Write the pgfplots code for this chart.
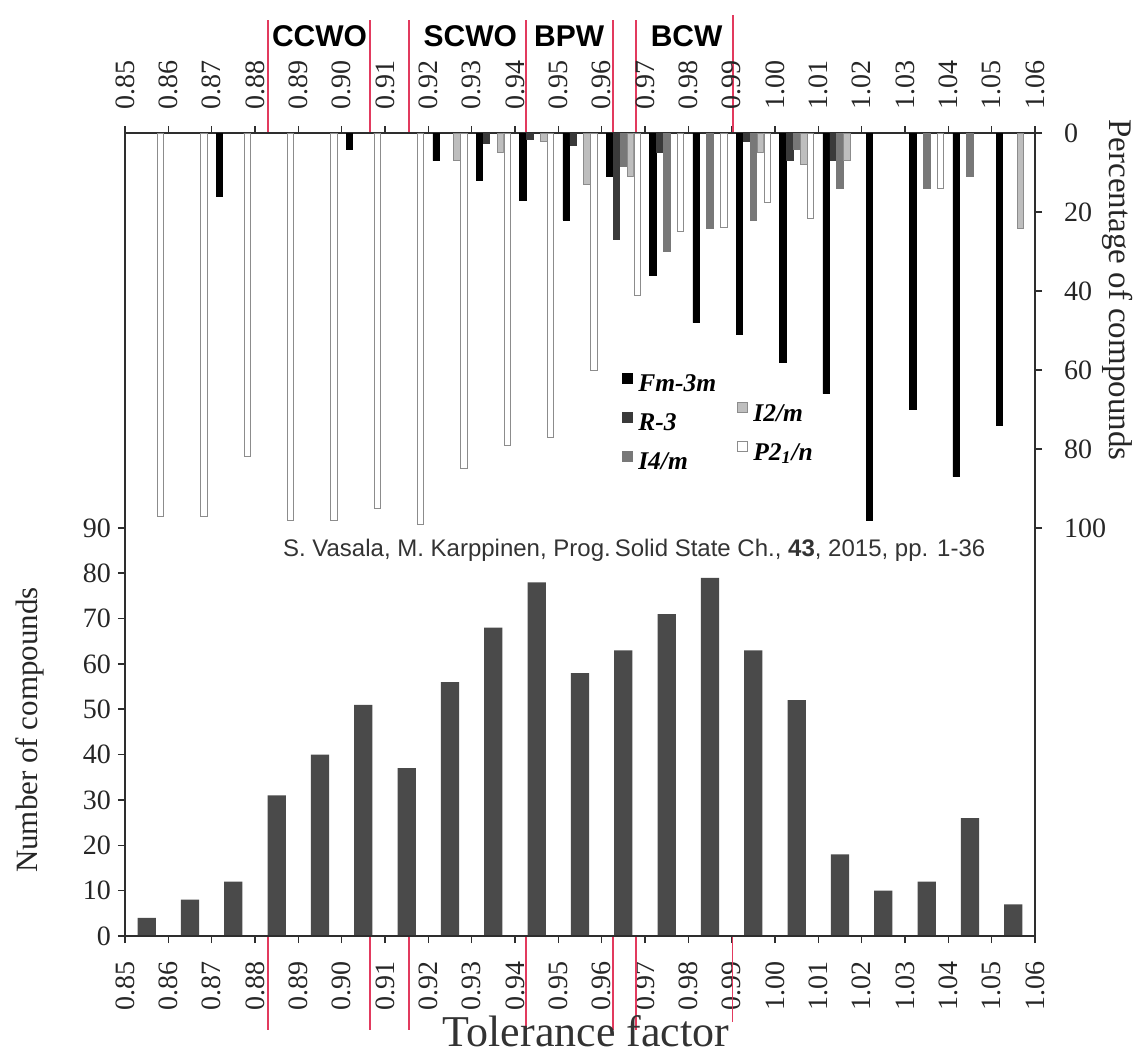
\documentclass[border=0pt]{standalone}
\usepackage{pgfplots}
\pgfplotsset{compat=1.18}
\usepackage{fontspec}
\setmainfont{Liberation Serif}
\newfontfamily\arialfont{Liberation Sans}

\definecolor{cFm}{HTML}{000000}
\definecolor{cR}{HTML}{3A3A3A}
\definecolor{cIfour}{HTML}{787878}
\definecolor{cItwo}{HTML}{BEBEBE}
\definecolor{cP}{HTML}{FFFFFF}
\definecolor{cEdge}{HTML}{8C8C8C}
\definecolor{histbar}{HTML}{4A4A4A}
\definecolor{regionred}{HTML}{E23A5E}
\definecolor{axisgray}{HTML}{2E2E2E}

\pgfplotsset{
  panel/.style={
    at={(0,0)}, anchor=south west,
    scale only axis, width=455pt, height=401.5pt,
    xmin=0.85, xmax=1.06,
    xtick={0.85,0.86,0.87,0.88,0.89,0.90,0.91,0.92,0.93,0.94,0.95,0.96,0.97,0.98,0.99,1.00,1.01,1.02,1.03,1.04,1.05,1.06},
    axis line style={line width=0.8pt, axisgray},
    major tick style={line width=0.8pt, axisgray},
    tick align=outside, major tick length=3.5pt,
    tick label style={font=\fontsize{14}{14}\selectfont, text=black!85},
    /pgf/number format/assume math mode=true,
    x tick label style={/pgf/number format/fixed, /pgf/number format/fixed zerofill, /pgf/number format/precision=2},
    clip=false,
  },
  sq/.style={legend image code/.code={\path[##1] (0pt,1.5pt) rectangle (4.8pt,6.3pt);}},
  boxlegend/.style={
    legend cell align=left,
    legend style={draw=none, fill=none, inner sep=0pt, outer sep=0pt,
      row sep=5.5pt, column sep=2pt,
      font=\fontsize{12.75}{12.75}\selectfont\bfseries\itshape,
      nodes={inner sep=1pt, text height=9pt, text depth=3pt}},
    sq,
  },
}

\begin{document}
\begin{tikzpicture}

% ---------- lower panel: histogram of compounds per tolerance-factor bin ----------
\begin{axis}[panel,
  ymin=0, ymax=177.1,
  ybar, bar width=0.0042,
  xtick pos=left, xticklabel pos=left,
  ytick pos=left, yticklabel pos=left,
  ytick={0,10,20,30,40,50,60,70,80,90},
  xticklabel style={rotate=90, anchor=east},
  xticklabel shift=5.5pt,
  xlabel={Tolerance factor},
  xlabel style={at={(axis description cs:0.5,0)}, anchor=base, yshift=-55pt, xshift=3pt,
    font=\fontsize{22}{22}\selectfont, text=black!80},
]
\addplot[fill=histbar, draw=none, bar shift=0] coordinates {
  (0.855,4) (0.865,8) (0.875,12) (0.885,31) (0.895,40) (0.905,51) (0.915,37)
  (0.925,56) (0.935,68) (0.945,78) (0.955,58) (0.965,63) (0.975,71) (0.985,79)
  (0.995,63) (1.005,52) (1.015,18) (1.025,10) (1.035,12) (1.045,26) (1.055,7)
};

% region boundaries
\pgfplotsinvokeforeach{0.883,0.9066,0.9155,0.9426,0.9627,0.968}{
  \draw[regionred, line width=1pt] (axis cs:#1,177.1) -- ++(0pt,56.5pt);
  \draw[regionred, line width=1pt] (axis cs:#1,0) -- ++(0pt,-47pt);
}
\draw[regionred, line width=1pt] (axis cs:0.9902,177.1) -- ++(0pt,59pt);
\draw[regionred, line width=0.8pt] (axis cs:0.9902,0) -- ++(0pt,-43pt);

\begin{scope}[font=\arialfont\bfseries\fontsize{15}{15}\selectfont]
  \node[anchor=base] at ([yshift=43pt]axis cs:0.8949,177.1) {CCWO};
  \node[anchor=base] at ([yshift=43pt]axis cs:0.9297,177.1) {SCWO};
  \node[anchor=base] at ([yshift=43pt]axis cs:0.9525,177.1) {BPW};
  \node[anchor=base] at ([yshift=43pt]axis cs:0.9796,177.1) {BCW};
\end{scope}

\node[anchor=base, font=\arialfont\fontsize{12}{12}\selectfont, text=black!80]
  at (axis cs:0.9675,83.8) {S. Vasala, M. Karppinen, Prog.\,Solid State Ch., \textbf{43}, 2015, pp. 1-36};

\node[rotate=90, anchor=center, font=\fontsize{15.5}{15.5}\selectfont, text=black!85]
  at ([xshift=-47.5pt]rel axis cs:0,0.2565) {Number of compounds};
\node[rotate=-90, anchor=center, font=\fontsize{16.5}{16.5}\selectfont, text=black!85]
  at ([xshift=41.5pt]rel axis cs:1,0.8045) {Percentage of compounds};
\end{axis}

% ---------- upper panel: space-group shares, bars hanging from the top ----------
\begin{axis}[panel, boxlegend,
  y dir=reverse, ymin=0, ymax=203.3,
  ybar, bar width=0.0015,
  xtick pos=right, xticklabel pos=right,
  ytick pos=right, yticklabel pos=right,
  ytick={0,20,40,60,80,100},
  xticklabel style={rotate=90, anchor=west},
  xticklabel shift=4.5pt,
  yticklabel shift=7.5pt,
  legend style={at={(0.5462,0.7024)}, anchor=north west},
]
\addplot[sq, fill=cFm, draw=cFm, line width=0.3pt, bar shift=-0.0032] coordinates {
  (0.875,16) (0.905,4) (0.925,7) (0.935,12) (0.945,17) (0.955,22) (0.965,11)
  (0.975,36) (0.985,48) (0.995,51) (1.005,58) (1.015,66) (1.025,98) (1.035,70)
  (1.045,87) (1.055,74)
};
\addplot[sq, fill=cR, draw=cR, line width=0.3pt, bar shift=-0.0016] coordinates {
  (0.935,2.5) (0.945,1.5) (0.955,3) (0.965,27) (0.975,5) (0.995,2) (1.005,7) (1.015,7)
};
\addplot[sq, fill=cIfour, draw=cIfour, line width=0.3pt, bar shift=0] coordinates {
  (0.965,8.5) (0.975,30) (0.985,24) (0.995,22) (1.005,4) (1.015,14) (1.035,14) (1.045,11)
};
\addplot[sq, fill=cItwo, draw=cEdge, line width=0.3pt, bar shift=0.0016] coordinates {
  (0.925,7) (0.935,5) (0.945,2) (0.955,13) (0.965,11) (0.995,5) (1.005,8) (1.015,7) (1.055,24)
};
\addplot[sq, fill=cP, draw=cEdge, line width=0.4pt, bar shift=0.0032] coordinates {
  (0.855,97) (0.865,97) (0.875,82) (0.885,98) (0.895,98) (0.905,95) (0.915,99)
  (0.925,85) (0.935,79) (0.945,77) (0.955,60) (0.965,41) (0.975,25) (0.985,24)
  (0.995,17.5) (1.005,21.5) (1.035,14)
};
\legend{Fm-3m, R-3, I4/m}
\end{axis}

% second legend column
\begin{axis}[panel, boxlegend, hide axis, ymin=0, ymax=1,
  legend style={at={(0.6725,0.6662)}, anchor=north west},
]
\addlegendimage{fill=cItwo, draw=cEdge, line width=0.3pt}
\addlegendentry{I2/m}
\addlegendimage{fill=cP, draw=cEdge, line width=0.4pt}
\addlegendentry{P2\textsubscript{1}/n}
\end{axis}

\pgfresetboundingbox
\path[use as bounding box] (-62.5pt,-59.5pt) rectangle (506.5pt,468pt);
\end{tikzpicture}
\end{document}
